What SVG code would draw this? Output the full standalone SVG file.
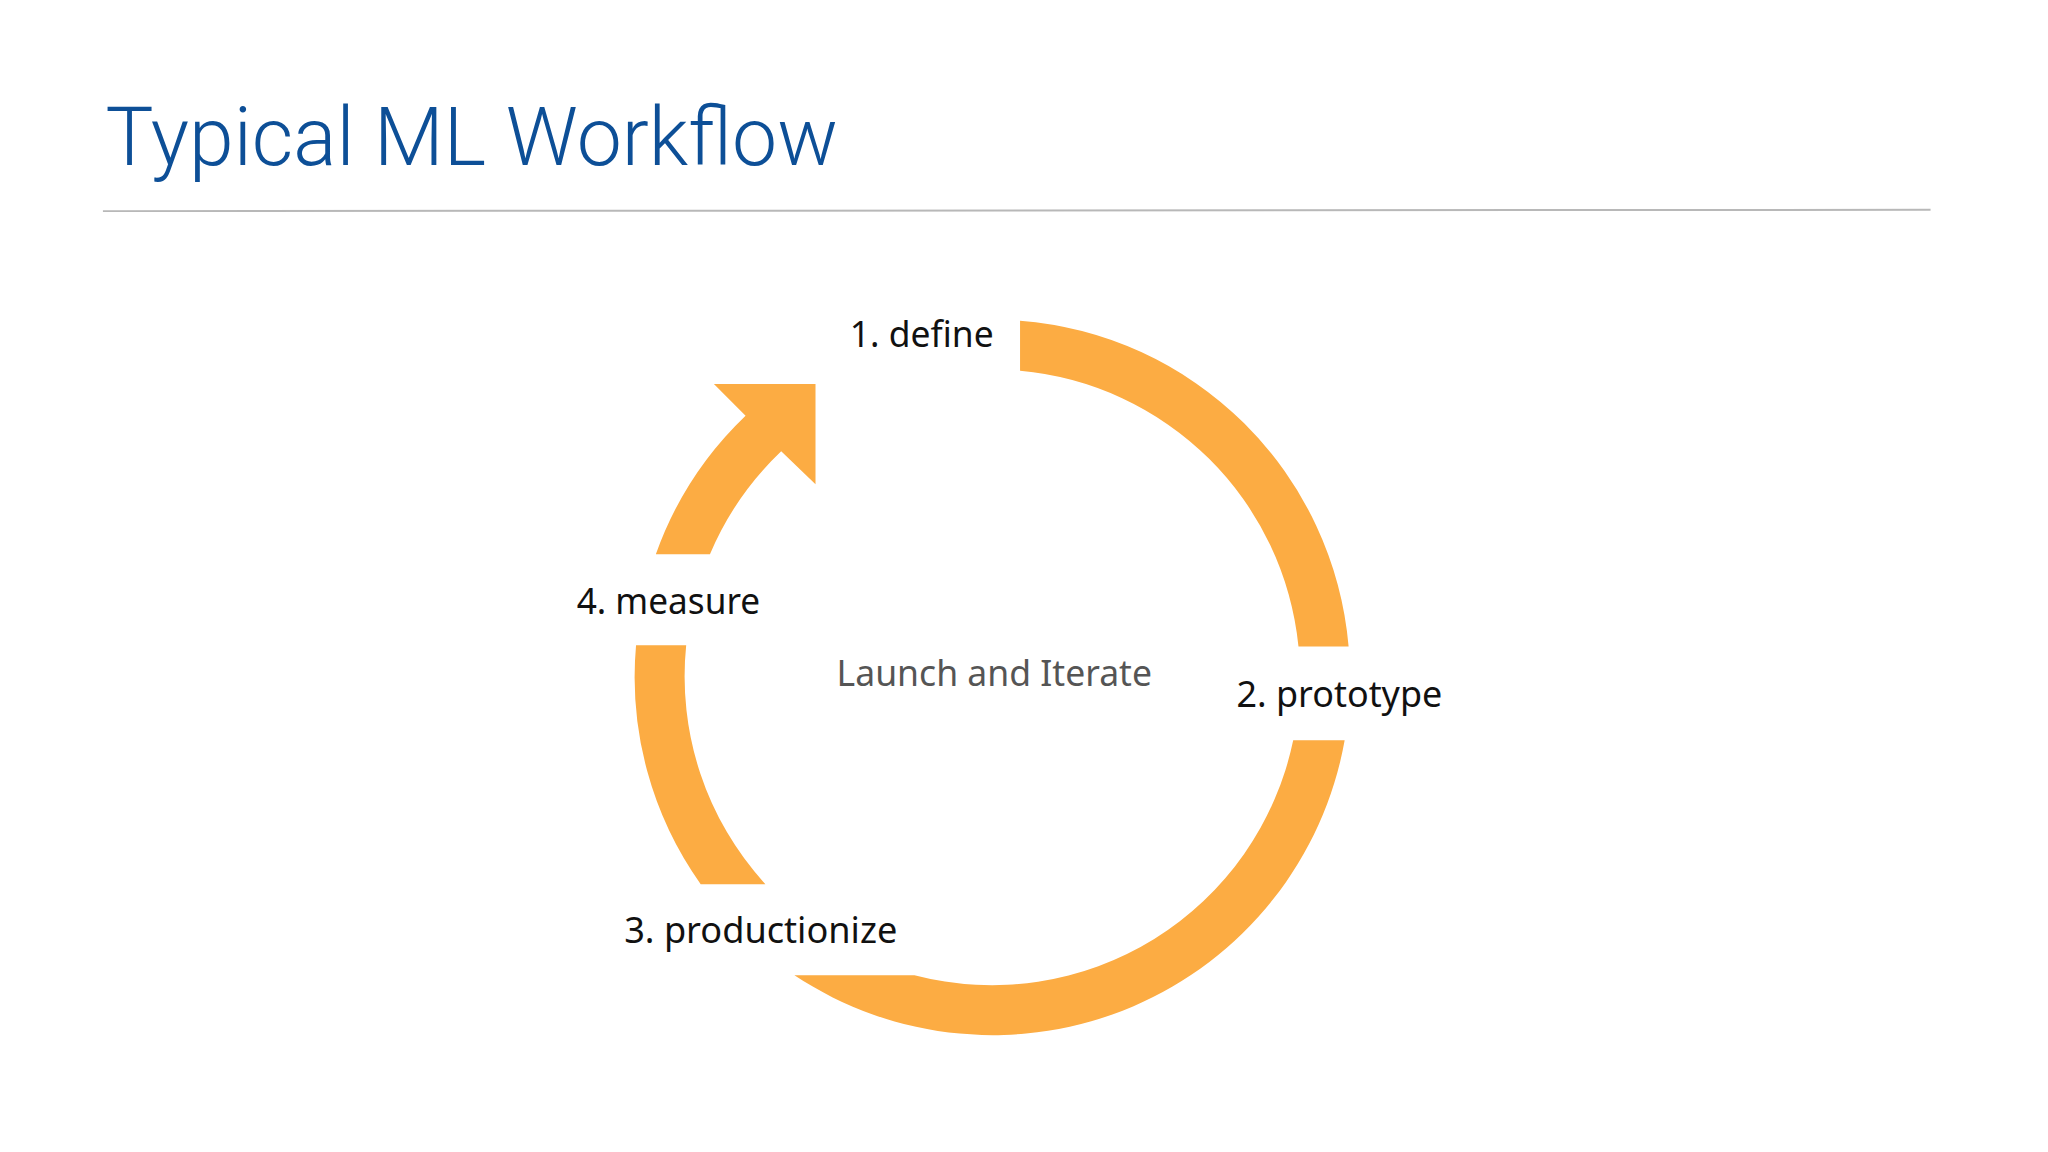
<svg xmlns="http://www.w3.org/2000/svg" width="2048" height="1152" viewBox="0 0 2048 1152">
<style>
.seg{fill:#fcac43}
.lbl{font-family:"Source Sans Pro","Noto Sans",sans-serif;font-size:27px;fill:#111}
</style>
<rect width="2048" height="1152" fill="#ffffff"/>
<g transform="scale(1.31959)">
<g id="title">
<text x="80" y="125" font-family="Roboto,sans-serif" font-weight="300" font-size="62" fill="#0d4f97" textLength="555" lengthAdjust="spacingAndGlyphs">Typical ML Workflow</text>
<line x1="78" y1="160" x2="1463" y2="159" stroke="#b8b8b8" stroke-width="1.5"/>
</g>
<g id="connectors">
<path class="seg" d="M773,243 A271,271 0 0 1 1022,490 L984,490 A233,233 0 0 0 773,281 Z"/>
<path class="seg" d="M1019,561 A271,271 0 0 1 602,739 L693,739 A233,233 0 0 0 980,561 Z"/>
<path class="seg" d="M482,489 A271,271 0 0 0 531,670 L580,670 A233,233 0 0 1 520,489 Z"/>
<path class="seg" d="M497,420 A271,271 0 0 1 565,315 L541,291 L618,291 L618,367 L592,342 A233,233 0 0 0 538,420 Z"/>
</g>
<g id="define"><text class="lbl" x="644" y="263" textLength="109" lengthAdjust="spacingAndGlyphs">1. define</text></g>
<g id="prototype"><text class="lbl" x="937" y="536" textLength="156" lengthAdjust="spacingAndGlyphs">2. prototype</text></g>
<g id="productionize"><text class="lbl" x="473" y="715" textLength="207" lengthAdjust="spacingAndGlyphs">3. productionize</text></g>
<g id="measure"><text class="lbl" x="437" y="465" textLength="139" lengthAdjust="spacingAndGlyphs">4. measure</text></g>
<g id="center"><text class="lbl" x="634" y="520" fill="#555" style="fill:#555" textLength="239" lengthAdjust="spacingAndGlyphs">Launch and Iterate</text></g>
</g>
</svg>
